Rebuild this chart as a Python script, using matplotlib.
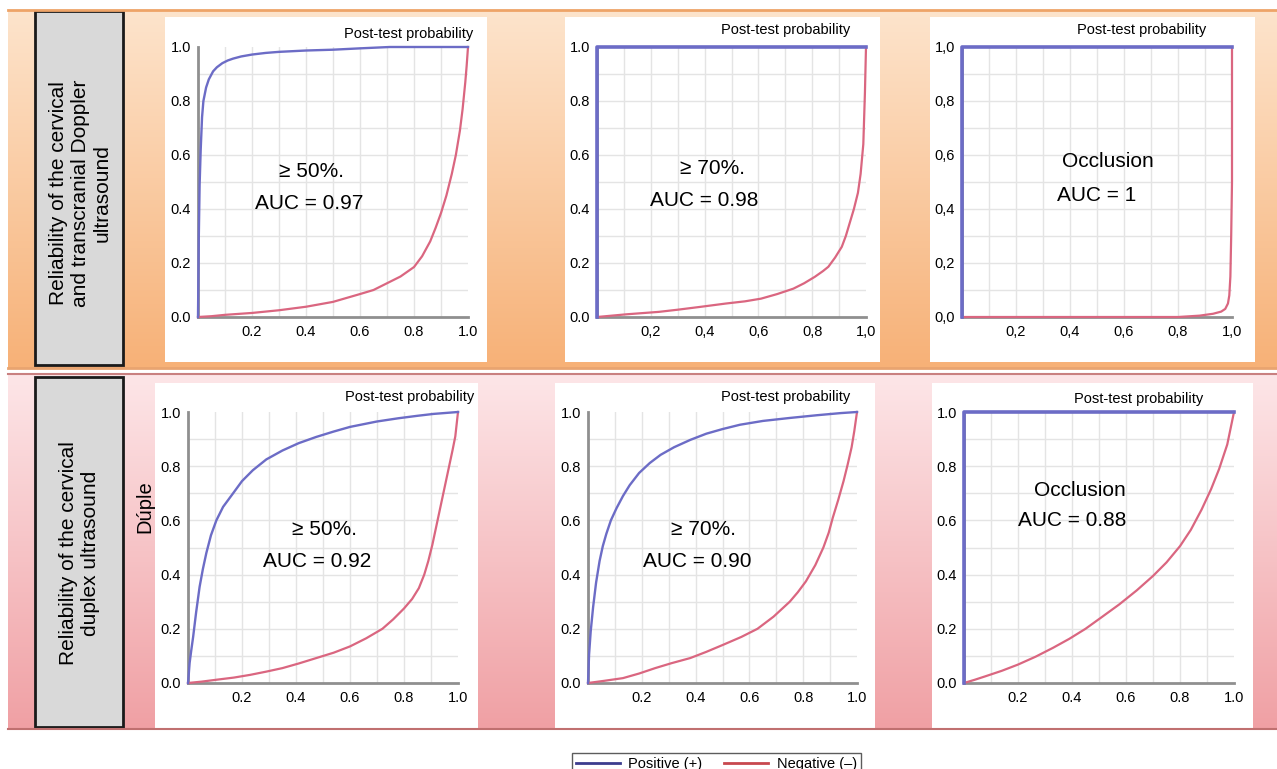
import numpy as np
import matplotlib.pyplot as plt
from matplotlib.lines import Line2D
from matplotlib.patches import Rectangle

plt.rcParams['font.family'] = ['Liberation Sans', 'DejaVu Sans']

W, H = 1277, 769

# Top row: cervical + transcranial Doppler
pos1_x = [0, 0.003, 0.006, 0.01, 0.015, 0.02, 0.03, 0.04, 0.056, 0.07, 0.09, 0.11, 0.13, 0.16,
          0.2, 0.25, 0.3, 0.4, 0.5, 0.6, 0.71, 1.0]
pos1_y = [0, 0.3, 0.49, 0.62, 0.74, 0.80, 0.85, 0.88, 0.91, 0.925, 0.94, 0.95, 0.957, 0.965,
          0.972, 0.978, 0.982, 0.987, 0.99, 0.995, 1.0, 1.0]
neg1_x = [0, 0.05, 0.1, 0.2, 0.3, 0.4, 0.5, 0.6, 0.65, 0.7, 0.75, 0.8, 0.83, 0.86, 0.88, 0.9,
          0.92, 0.94, 0.955, 0.97, 0.98, 0.99, 0.995, 1.0]
neg1_y = [0, 0.003, 0.008, 0.015, 0.025, 0.038, 0.056, 0.085, 0.1, 0.125, 0.15, 0.185, 0.225,
          0.28, 0.33, 0.385, 0.45, 0.53, 0.6, 0.69, 0.77, 0.87, 0.93, 1.0]

pos2_x = [0, 0, 1.0]
pos2_y = [0, 1.0, 1.0]
neg2_x = [0, 0.11, 0.23, 0.3, 0.38, 0.48, 0.55, 0.61, 0.67, 0.73, 0.77, 0.81, 0.84, 0.86, 0.885,
          0.91, 0.925, 0.94, 0.955, 0.97, 0.98, 0.99, 0.996, 1.0]
neg2_y = [0, 0.01, 0.019, 0.027, 0.037, 0.05, 0.058, 0.068, 0.085, 0.105, 0.125, 0.149, 0.17,
          0.186, 0.22, 0.26, 0.3, 0.35, 0.4, 0.46, 0.53, 0.64, 0.83, 1.0]

pos3_x = [0, 0, 1.0]
pos3_y = [0, 1.0, 1.0]
neg3_x = [0, 0.8, 0.88, 0.93, 0.96, 0.975, 0.985, 0.99, 0.994, 0.997, 1.0, 1.0]
neg3_y = [0, 0.0, 0.005, 0.012, 0.02, 0.03, 0.05, 0.08, 0.15, 0.3, 0.5, 1.0]

# Bottom row: cervical duplex
pos4_x = [0, 0.003, 0.006, 0.012, 0.019, 0.03, 0.043, 0.055, 0.068, 0.085, 0.105, 0.13, 0.167,
          0.2, 0.24, 0.29, 0.35, 0.41, 0.475, 0.54, 0.6, 0.7, 0.78, 0.85, 0.91, 1.0]
pos4_y = [0, 0.035, 0.074, 0.12, 0.17, 0.26, 0.355, 0.42, 0.48, 0.545, 0.6, 0.65, 0.70,
          0.745, 0.785, 0.825, 0.858, 0.885, 0.908, 0.928, 0.945, 0.965, 0.977, 0.986, 0.993, 1.0]
neg4_x = [0, 0.05, 0.105, 0.17, 0.23, 0.29, 0.35, 0.41, 0.475, 0.54, 0.6, 0.66, 0.72, 0.76, 0.8,
          0.83, 0.855, 0.875, 0.89, 0.905, 0.92, 0.935, 0.95, 0.965, 0.98, 0.99, 1.0]
neg4_y = [0, 0.005, 0.012, 0.02, 0.03, 0.042, 0.055, 0.072, 0.092, 0.112, 0.135, 0.165, 0.2,
          0.235, 0.275, 0.31, 0.35, 0.4, 0.45, 0.51, 0.58, 0.65, 0.72, 0.79, 0.86, 0.91, 1.0]

pos5_x = [0, 0.002, 0.004, 0.01, 0.019, 0.03, 0.043, 0.055, 0.068, 0.085, 0.106, 0.13, 0.155,
          0.19, 0.23, 0.27, 0.32, 0.38, 0.44, 0.5, 0.565, 0.65, 0.75, 0.85, 0.94, 1.0]
pos5_y = [0, 0.05, 0.105, 0.19, 0.28, 0.37, 0.45, 0.505, 0.55, 0.6, 0.645, 0.69, 0.73,
          0.775, 0.812, 0.842, 0.87, 0.897, 0.92, 0.937, 0.953, 0.967, 0.978, 0.988, 0.996, 1.0]
neg5_x = [0, 0.06, 0.13, 0.19, 0.25, 0.31, 0.38, 0.44, 0.5, 0.57, 0.63, 0.69, 0.75, 0.78, 0.81,
          0.845, 0.875, 0.895, 0.91, 0.93, 0.95, 0.965, 0.98, 0.99, 1.0]
neg5_y = [0, 0.008, 0.018, 0.035, 0.055, 0.073, 0.092, 0.115, 0.14, 0.17, 0.2, 0.245, 0.3,
          0.335, 0.375, 0.435, 0.5, 0.555, 0.61, 0.675, 0.745, 0.805, 0.87, 0.93, 1.0]

pos6_x = [0, 0, 1.0]
pos6_y = [0, 1.0, 1.0]
neg6_x = [0, 0.04, 0.08, 0.14, 0.2, 0.265, 0.33, 0.39, 0.45, 0.51, 0.575, 0.64, 0.7, 0.75, 0.8,
          0.84, 0.88, 0.915, 0.945, 0.975, 1.0]
neg6_y = [0, 0.012, 0.025, 0.045, 0.068, 0.097, 0.13, 0.163, 0.2, 0.243, 0.29, 0.342, 0.395,
          0.445, 0.505, 0.565, 0.64, 0.715, 0.79, 0.88, 1.0]

labels1 = ['\u2265 50%.', '\u2265 70%.', 'Occlusion']
auc1 = ['AUC = 0.97', 'AUC = 0.98', 'AUC = 1']
labels2 = ['\u2265 50%.', '\u2265 70%.', 'Occlusion']
auc2 = ['AUC = 0.92', 'AUC = 0.90', 'AUC = 0.88']

yticks = [0.0, 0.2, 0.4, 0.6, 0.8, 1.0]
xticks = [0.2, 0.4, 0.6, 0.8, 1.0]
dot_y = ['0.0', '0.2', '0.4', '0.6', '0.8', '1.0']
dot_x = ['0.2', '0.4', '0.6', '0.8', '1.0']
comma_y = ['0,0', '0,2', '0,4', '0,6', '0,8', '1,0']
comma_x = ['0,2', '0,4', '0,6', '0,8', '1,0']

BLUE = '#6c6cc6'
RED = '#da6680'

fig = plt.figure(figsize=(W / 100, H / 100), dpi=100)
fig.patch.set_facecolor('white')

# background layer in pixel coordinates
bg = fig.add_axes([0, 0, 1, 1], zorder=0)
bg.set_xlim(0, W)
bg.set_ylim(H, 0)
bg.axis('off')


def gradient(c_top, c_bot, n=200):
    a = np.array(plt.matplotlib.colors.to_rgb(c_top))
    b = np.array(plt.matplotlib.colors.to_rgb(c_bot))
    t = np.linspace(0, 1, n)[:, None]
    return (a * (1 - t) + b * t)[:, None, :]


bg.imshow(gradient('#fde4cc', '#f7b177'), extent=(8, W, 368, 10), aspect='auto', origin='upper')
bg.imshow(gradient('#fde6e8', '#f0a0a4'), extent=(8, W, 729, 374), aspect='auto', origin='upper')
bg.plot([8, W], [10, 10], color='#eea468', lw=2)
bg.plot([8, W], [368, 368], color='#e9a470', lw=2)
bg.plot([8, W], [374, 374], color='#c98080', lw=1.5)
bg.plot([8, W], [729, 729], color='#c07070', lw=1.5)

# white panel cards
for (l, r, t, b) in [(165, 487, 17, 362), (565, 880, 17, 362), (930, 1255, 17, 362),
                     (155, 478, 383, 728), (555, 875, 383, 728), (932, 1253, 383, 728)]:
    bg.add_patch(Rectangle((l, t), r - l, b - t, facecolor='white', edgecolor='none'))

# grey row label boxes
for (t, b) in [(11, 365), (377, 727)]:
    bg.add_patch(Rectangle((35, t), 88, b - t, facecolor='#d9d9d9', edgecolor='#1a1a1a', lw=2))

bg.text(80, 193, 'Reliability of the cervical\nand transcranial Doppler\nultrasound',
        rotation=90, ha='center', va='center', fontsize=15, linespacing=1.2)
bg.text(79, 553, 'Reliability of the cervical\nduplex ultrasound',
        rotation=90, ha='center', va='center', fontsize=15, linespacing=1.2)
bg.text(145, 507, 'Dúple', rotation=90, ha='center', va='center', fontsize=14.5)

for (x, y) in [(409, 34), (786, 30), (1142, 30), (410, 397), (786, 397), (1139, 399)]:
    bg.text(x, y, 'Post-test probability', ha='center', va='center', fontsize=10.5)

panels = [
    ((198, 468, 47, 317), pos1_x, pos1_y, neg1_x, neg1_y, dot_x, dot_y, labels1[0], auc1[0], (0.42, 0.54), (0.41, 0.42)),
    ((597, 866, 47, 317), pos2_x, pos2_y, neg2_x, neg2_y, comma_x, dot_y, labels1[1], auc1[1], (0.43, 0.55), (0.40, 0.43)),
    ((962, 1232, 47, 317), pos3_x, pos3_y, neg3_x, neg3_y, comma_x, comma_y, labels1[2], auc1[2], (0.54, 0.575), (0.50, 0.45)),
    ((188, 458, 412, 683), pos4_x, pos4_y, neg4_x, neg4_y, dot_x, dot_y, labels2[0], auc2[0], (0.505, 0.565), (0.48, 0.45)),
    ((588, 857, 412, 683), pos5_x, pos5_y, neg5_x, neg5_y, dot_x, dot_y, labels2[1], auc2[1], (0.43, 0.565), (0.405, 0.45)),
    ((964, 1234, 412, 683), pos6_x, pos6_y, neg6_x, neg6_y, dot_x, dot_y, labels2[2], auc2[2], (0.43, 0.71), (0.40, 0.60)),
]

for (l, r, t, b), px, py, nx, ny, xl, yl, lab, auc, p1, p2 in panels:
    ax = fig.add_axes([l / W, 1 - b / H, (r - l) / W, (b - t) / H], zorder=2)
    ax.patch.set_alpha(0)
    ax.set_xlim(0, 1)
    ax.set_ylim(0, 1)
    for v in np.arange(0.1, 1.0, 0.1):
        ax.axvline(v, color='#e4e4e4', lw=1, zorder=1)
        ax.axhline(v, color='#e4e4e4', lw=1, zorder=1)
    step = len(px) == 3
    ax.plot(nx, ny, color=RED, lw=1.6, clip_on=False, zorder=3)
    ax.plot(px, py, color=BLUE, lw=2.6 if step else 1.7, clip_on=False, zorder=4)
    for s in ['top', 'right']:
        ax.spines[s].set_visible(False)
    for s in ['left', 'bottom']:
        ax.spines[s].set_color('#8f8f8f')
        ax.spines[s].set_linewidth(2)
    ax.set_xticks(xticks)
    ax.set_xticklabels(xl)
    ax.set_yticks(yticks)
    ax.set_yticklabels(yl)
    ax.tick_params(length=0, labelsize=10.5, pad=6)
    ax.tick_params(axis='y', pad=5)
    ax.text(p1[0], p1[1], lab, ha='center', va='center', fontsize=15)
    ax.text(p2[0], p2[1], auc, ha='center', va='center', fontsize=15)

handles = [Line2D([], [], color='#3c3c8e', lw=2), Line2D([], [], color='#c8484e', lw=2)]
leg = fig.legend(handles, ['Positive (+)', 'Negative (\u2013)'], loc='upper center',
                 bbox_to_anchor=(716.5 / W, 1 - 746 / H), ncol=2, fontsize=10.5,
                 frameon=True, fancybox=False, edgecolor='#333333', handlelength=3,
                 columnspacing=1.5, borderpad=0.25, handletextpad=0.6)
leg.get_frame().set_linewidth(1)

fig.savefig('out.png', dpi=100)
